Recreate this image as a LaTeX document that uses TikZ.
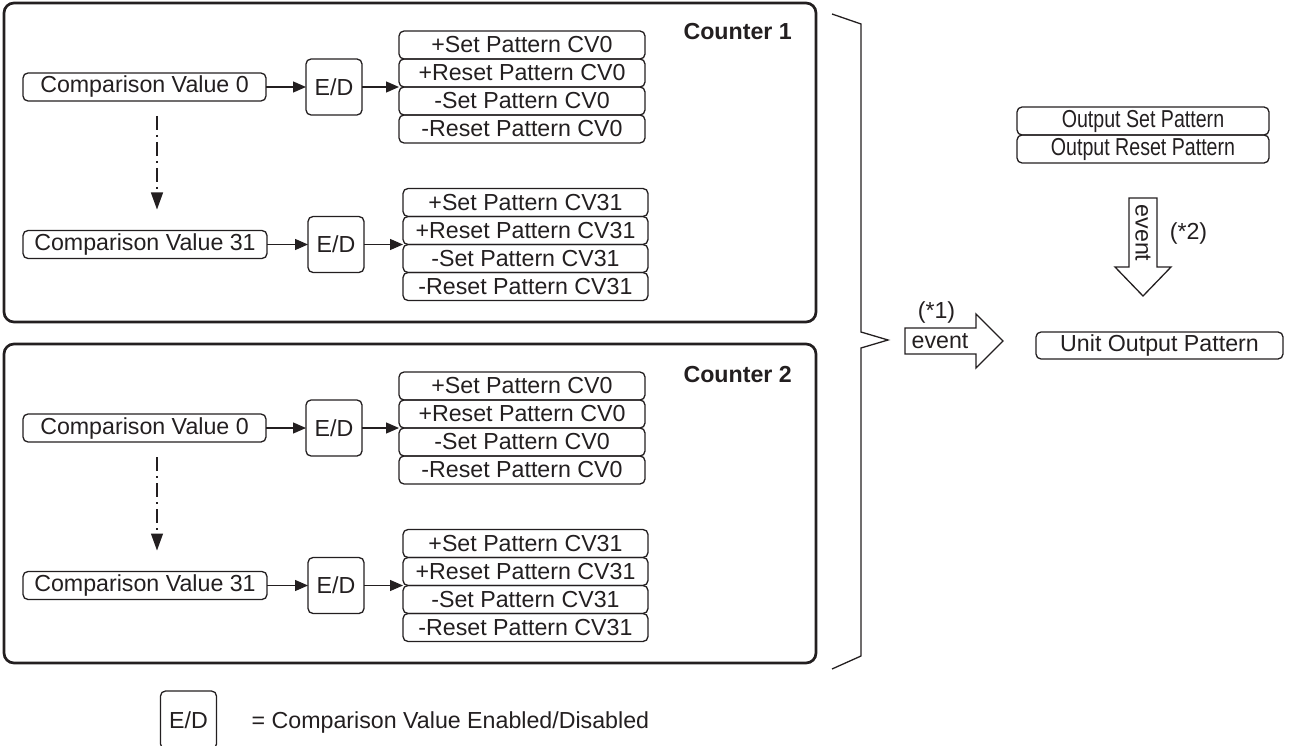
\documentclass[tikz,border=0pt]{standalone}
\usepackage{fontspec}
\setmainfont{Liberation Sans}
\newfontfamily\narrowsf[FakeStretch=0.8]{Liberation Sans}
\usetikzlibrary{positioning,arrows.meta,calc}
\definecolor{ink}{HTML}{231F20}

\begin{document}
\begin{tikzpicture}[x=1pt, y=-1pt,
    font=\fontsize{23.2}{27}\selectfont, >={Triangle[length=13pt, width=11pt]},
    every node/.style={align=center, text=ink},
    counter/.style={draw=ink, line width=2.7pt, rounded corners=10pt, minimum width=812pt,
                    minimum height=319pt, inner sep=0pt, outer sep=0pt},
    cvbox/.style={draw=ink, line width=1.3pt, rounded corners=5pt, minimum width=243pt,
                  minimum height=28pt, inner sep=0pt, outer sep=0pt},
    edbox/.style={draw=ink, line width=1.3pt, rounded corners=5pt, minimum size=56pt,
                  inner sep=0pt, outer sep=0pt},
    patbox/.style={draw=ink, line width=1.3pt, rounded corners=5pt, minimum width=246pt,
                   minimum height=28pt, inner sep=0pt, outer sep=0pt},
    outbox/.style={patbox, minimum width=252pt, font=\fontsize{24.5}{27}\narrowsf},
    link/.style={->, draw=ink, line width=1.3pt},
    skip/.style={-{Triangle[length=17pt, width=12pt]}, draw=ink, line width=1.3pt,
                 dash pattern=on 14pt off 5pt on 2pt off 5pt},
    block/.style={draw=ink, line width=1.3pt, line join=miter},
    title/.style={font=\fontsize{23.2}{27}\selectfont\bfseries, inner sep=0pt, anchor=east}]
  \useasboundingbox (0,0) rectangle (1290,746);
  % counter 1
  \node[counter] (cnt1) at (410,162.5) {};
  \node[title] (cnt1t) at ([xshift=-24pt,yshift=-29pt]cnt1.north east) {Counter 1};
  \node[cvbox] (c1cv0) at ([shift={(140.5pt,-84pt)}]cnt1.north west) {Comparison Value 0};
  \node[edbox, right=40pt of c1cv0] (c1ed0) {E/D};
  \node[patbox, anchor=south west] (c1p01) at ([xshift=37pt]c1ed0.east) {+Reset Pattern CV0};
  \node[patbox, above=0pt of c1p01] (c1p00) {+Set Pattern CV0};
  \node[patbox, below=0pt of c1p01] (c1p02) {-Set Pattern CV0};
  \node[patbox, below=0pt of c1p02] (c1p03) {-Reset Pattern CV0};
  \node[cvbox, minimum width=244pt] (c1cv31) at ([shift={(141pt,-241.5pt)}]cnt1.north west) {Comparison Value 31};
  \node[edbox, right=41pt of c1cv31] (c1ed31) {E/D};
  \node[patbox, minimum width=245pt, anchor=south west] (c1p311) at ([xshift=39pt]c1ed31.east) {+Reset Pattern CV31};
  \node[patbox, minimum width=245pt, above=0pt of c1p311] (c1p310) {+Set Pattern CV31};
  \node[patbox, minimum width=245pt, below=0pt of c1p311] (c1p312) {-Set Pattern CV31};
  \node[patbox, minimum width=245pt, below=0pt of c1p312] (c1p313) {-Reset Pattern CV31};
  \draw[link] (c1cv0) -- (c1ed0);
  \draw[link] (c1ed0) -- (c1p01.south west);
  \draw[link] (c1cv31) -- (c1ed31);
  \draw[link] (c1ed31) -- (c1p311.south west);
  \draw[skip] ([xshift=12.5pt,yshift=-15pt]c1cv0.south) -- ([xshift=12pt,yshift=21pt]c1cv31.north);
  % counter 2
  \node[counter, below=22pt of cnt1] (cnt2) {};
  \node[title] (cnt2t) at ([xshift=-24pt,yshift=-31pt]cnt2.north east) {Counter 2};
  \node[cvbox] (c2cv0) at ([shift={(140.5pt,-84pt)}]cnt2.north west) {Comparison Value 0};
  \node[edbox, right=40pt of c2cv0] (c2ed0) {E/D};
  \node[patbox, anchor=south west] (c2p01) at ([xshift=37pt]c2ed0.east) {+Reset Pattern CV0};
  \node[patbox, above=0pt of c2p01] (c2p00) {+Set Pattern CV0};
  \node[patbox, below=0pt of c2p01] (c2p02) {-Set Pattern CV0};
  \node[patbox, below=0pt of c2p02] (c2p03) {-Reset Pattern CV0};
  \node[cvbox, minimum width=244pt] (c2cv31) at ([shift={(141pt,-241.5pt)}]cnt2.north west) {Comparison Value 31};
  \node[edbox, right=41pt of c2cv31] (c2ed31) {E/D};
  \node[patbox, minimum width=245pt, anchor=south west] (c2p311) at ([xshift=39pt]c2ed31.east) {+Reset Pattern CV31};
  \node[patbox, minimum width=245pt, above=0pt of c2p311] (c2p310) {+Set Pattern CV31};
  \node[patbox, minimum width=245pt, below=0pt of c2p311] (c2p312) {-Set Pattern CV31};
  \node[patbox, minimum width=245pt, below=0pt of c2p312] (c2p313) {-Reset Pattern CV31};
  \draw[link] (c2cv0) -- (c2ed0);
  \draw[link] (c2ed0) -- (c2p01.south west);
  \draw[link] (c2cv31) -- (c2ed31);
  \draw[link] (c2ed31) -- (c2p311.south west);
  \draw[skip] ([xshift=12.5pt,yshift=-15pt]c2cv0.south) -- ([xshift=12pt,yshift=21pt]c2cv31.north);
  % bracket and the event arrow into the unit
  \draw[block] (832,14) -- (861,24) -- (861,332) -- (888,340) -- (861,348) -- (861,656) -- (832,669);
  \draw[block] (905,328) -- (976,328) -- (976,314) -- (1003,341) -- (976,368) -- (976,354) -- (905,354) -- cycle;
  \node[inner sep=0pt] (ev1) at (940,341) {event};
  \node[inner sep=0pt] (ev1n) at (936.5,312) {(*1)};
  \node[patbox, minimum width=247pt, minimum height=27pt] (unitout) at (1159.5,345.5) {Unit Output Pattern};
  % output patterns
  \node[outbox] (outset) at (1143,121) {Output Set Pattern};
  \node[outbox, below=0pt of outset] (outreset) {Output Reset Pattern};
  \draw[block] (1129,198) -- (1157,198) -- (1157,267) -- (1171,267) -- (1143,296) -- (1115,267) -- (1129,267) -- cycle;
  \node[rotate=-90, inner sep=0pt] (ev2) at (1143,233) {event};
  \node[inner sep=0pt] (ev2n) at (1188.5,233) {(*2)};
  % legend
  \node[edbox, minimum height=58pt] (legend) at (188.5,720) {E/D};
  \node[right=35pt of legend, inner sep=0pt, yshift=-2pt] (legtext) {= Comparison Value Enabled/Disabled};
\end{tikzpicture}
\end{document}
